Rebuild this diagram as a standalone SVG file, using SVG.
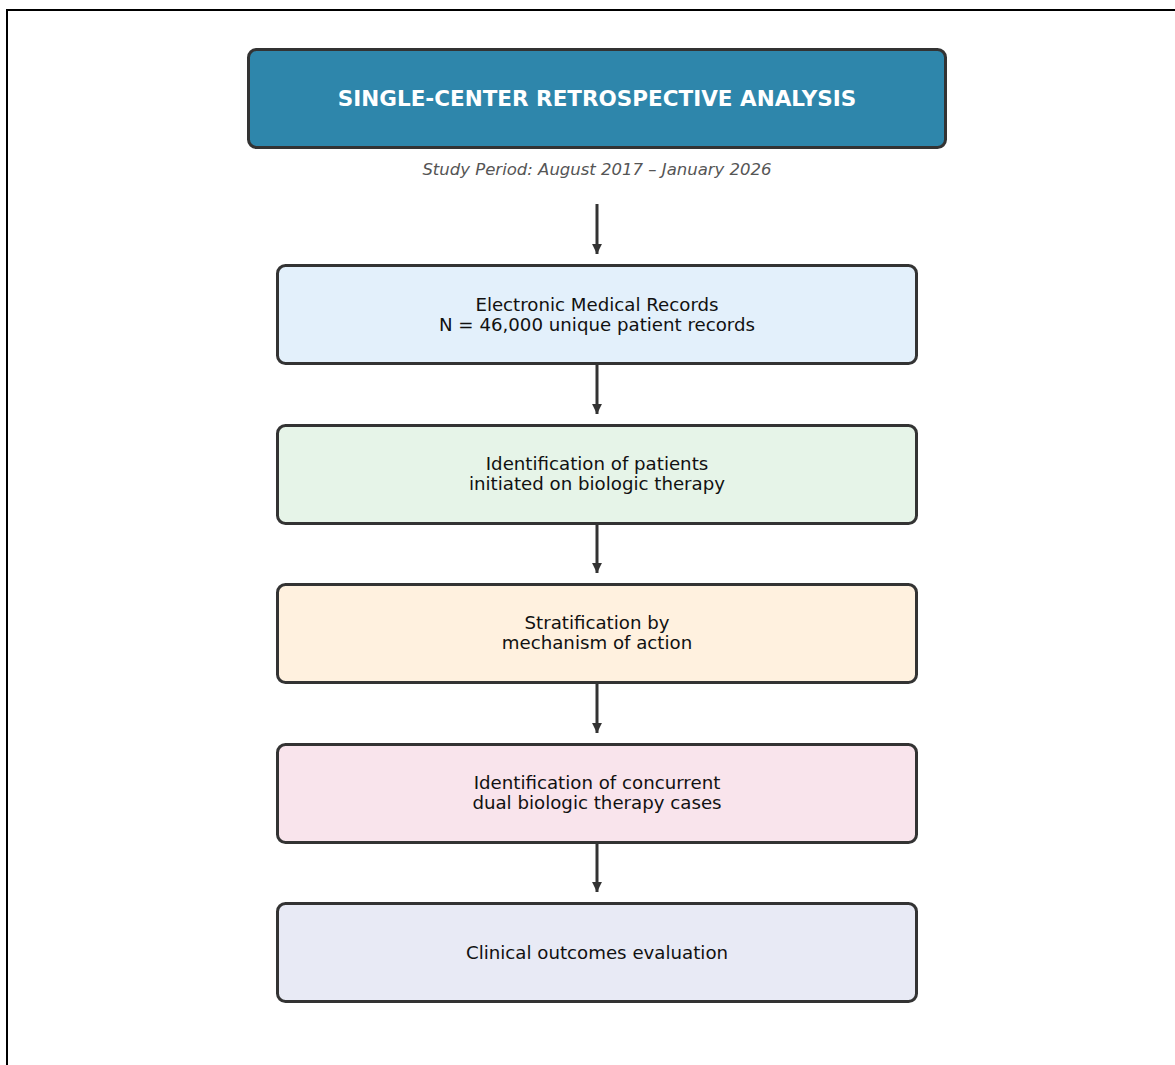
<svg xmlns="http://www.w3.org/2000/svg" width="1175" height="1065" viewBox="0 0 1175 1065">
<defs>
<style>
.box{stroke:#333;stroke-width:3}
.t{font-family:"DejaVu Sans",sans-serif;font-size:18.2px;fill:#111;text-anchor:middle}
.conn{stroke:#333;stroke-width:3;fill:none}
</style>
<marker id="ah" viewBox="0 0 10 10" refX="10" refY="5" markerWidth="3.6" markerHeight="3.3" markerUnits="strokeWidth" orient="auto">
<path d="M0,0 L10,5 L0,10 z" fill="#333"/>
</marker>
</defs>
<rect x="0" y="0" width="1175" height="1065" fill="#fff"/>
<rect x="7" y="10" width="1200" height="1100" fill="none" stroke="#000" stroke-width="2"/>
<g id="header">
<rect class="box" x="248.5" y="49.5" width="697" height="98" rx="8" fill="#2e86ab"/>
<text x="597" y="105.5" font-family="DejaVu Sans, sans-serif" font-size="21.5" font-weight="bold" fill="#fff" text-anchor="middle">SINGLE-CENTER RETROSPECTIVE ANALYSIS</text>
<text x="597" y="175" font-family="DejaVu Sans, sans-serif" font-size="16.5" font-style="italic" fill="#555" text-anchor="middle">Study Period: August 2017 – January 2026</text>
</g>
<g id="n1">
<rect class="box" x="277.5" y="265.5" width="639" height="98" rx="8" fill="#e3f0fb"/>
<text class="t" x="597" y="310.5">Electronic Medical Records</text>
<text class="t" x="597" y="330.5">N = 46,000 unique patient records</text>
</g>
<g id="n2">
<rect class="box" x="277.5" y="425.5" width="639" height="98" rx="8" fill="#e6f4e8"/>
<text class="t" x="597" y="469.5">Identification of patients</text>
<text class="t" x="597" y="489.5">initiated on biologic therapy</text>
</g>
<g id="n3">
<rect class="box" x="277.5" y="584.5" width="639" height="98" rx="8" fill="#fff1df"/>
<text class="t" x="597" y="629">Stratification by</text>
<text class="t" x="597" y="649">mechanism of action</text>
</g>
<g id="n4">
<rect class="box" x="277.5" y="744.5" width="639" height="98" rx="8" fill="#f9e4ec"/>
<text class="t" x="597" y="788.5">Identification of concurrent</text>
<text class="t" x="597" y="809">dual biologic therapy cases</text>
</g>
<g id="n5">
<rect class="box" x="277.5" y="903.5" width="639" height="98" rx="8" fill="#e8eaf5"/>
<text class="t" x="597" y="958.5">Clinical outcomes evaluation</text>
</g>
<g id="connectors">
<line class="conn" x1="597" y1="204" x2="597" y2="254" marker-end="url(#ah)"/>
<line class="conn" x1="597" y1="365" x2="597" y2="414" marker-end="url(#ah)"/>
<line class="conn" x1="597" y1="525" x2="597" y2="573" marker-end="url(#ah)"/>
<line class="conn" x1="597" y1="684" x2="597" y2="733" marker-end="url(#ah)"/>
<line class="conn" x1="597" y1="844" x2="597" y2="892" marker-end="url(#ah)"/>
</g>
</svg>
